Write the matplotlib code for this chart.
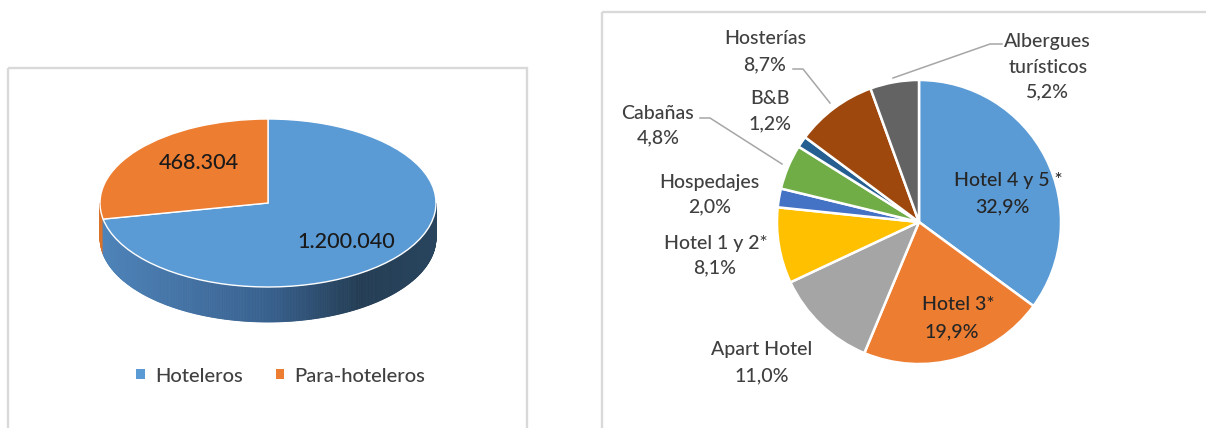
import matplotlib
matplotlib.use('Agg')
import matplotlib.pyplot as plt
from matplotlib.patches import Rectangle, Polygon, Patch
import numpy as np

plt.rcParams['font.family'] = ['Lato', 'DejaVu Sans']
plt.rcParams['font.weight'] = 'medium'

# ---------------- data ----------------
left_labels = ['Hoteleros', 'Para-hoteleros']
left_values = [1200040, 468304]
left_colors = ['#5B9BD5', '#ED7D31']

right_categories = ['Hotel 4 y 5 *', 'Hotel 3*', 'Apart Hotel', 'Hotel 1 y 2*', 'Hospedajes',
                    'Cabañas', 'B&B', 'Hosterías', 'Albergues\nturísticos']
right_shares = [32.9, 19.9, 11.0, 8.1, 2.0, 4.8, 1.2, 8.7, 5.2]
right_colors = ['#5B9BD5', '#ED7D31', '#A5A5A5', '#FFC000', '#4472C4',
                '#70AD47', '#255E91', '#9E480E', '#636363']


def fmt_thousands(v):
    return f"{v:,}".replace(',', '.')


def fmt_pct(v):
    return f"{v:.1f}".replace('.', ',') + '%'


W, H = 1206, 428
fig = plt.figure(figsize=(W / 100, H / 100), dpi=100)
fig.patch.set_facecolor('white')

# ---------------- panel borders ----------------
bg = fig.add_axes([0, 0, 1, 1])
bg.set_xlim(0, W)
bg.set_ylim(H, 0)
bg.axis('off')
for x0, y0, x1, y1 in [(8, 68, 527, 460), (602, 12, 1240, 460)]:
    bg.add_patch(Rectangle((x0, y0), x1 - x0, y1 - y0, fill=False,
                           ec='#d9d9d9', lw=1.7))

# ---------------- left: 3D-look pie ----------------
cx, cy, a, b, depth = 268, 203, 168, 84, 35
px0, px1, py0, py1 = 60, 480, 95, 345
axL = fig.add_axes([px0 / W, 1 - py1 / H, (px1 - px0) / W, (py1 - py0) / H])
wedgesL, _ = axL.pie(left_values, colors=left_colors, startangle=90,
                     counterclock=False,
                     wedgeprops=dict(edgecolor='white', linewidth=1.0))
axL.set_aspect('auto')
axL.set_xlim((px0 - cx) / a, (px1 - cx) / a)
axL.set_ylim((cy - py1) / b, (cy - py0) / b)
axL.axis('off')

d = depth / b
fr = np.array(left_values, dtype=float) / sum(left_values)
cum = np.concatenate([[0.0], np.cumsum(fr)])


def slice_at(theta_deg):
    p = ((90.0 - theta_deg) % 360.0) / 360.0
    return min(int(np.searchsorted(cum, p, side='right') - 1), len(fr) - 1)


blue_stops_x = [-1.0, 0.0, 0.55, 1.0]
blue_stops_c = [(0.31, 0.52, 0.73), (0.22, 0.38, 0.56), (0.14, 0.24, 0.33), (0.16, 0.27, 0.37)]
orange_side = (0.85, 0.45, 0.17)


def side_color(i, x):
    if i == 0:
        return tuple(np.interp(x, blue_stops_x, [c[k] for c in blue_stops_c]) for k in range(3))
    return orange_side


step = 0.5
for t in np.arange(-180.0, 0.0, step):
    a1, a2 = np.radians(t), np.radians(t + step)
    i = slice_at(t + step / 2)
    xm = np.cos(np.radians(t + step / 2))
    c = side_color(i, xm)
    poly = Polygon([(np.cos(a1), np.sin(a1)), (np.cos(a2), np.sin(a2)),
                    (np.cos(a2), np.sin(a2) - d), (np.cos(a1), np.sin(a1) - d)],
                   closed=True, fc=c, ec=c, lw=0.6, zorder=0.5)
    axL.add_patch(poly)

fig.legend([Patch(facecolor=c) for c in left_colors], left_labels,
           loc='center', bbox_to_anchor=(281 / W, 1 - 376 / H), ncol=2,
           frameon=False, fontsize=14.5, handlelength=0.4, handleheight=0.4,
           handletextpad=0.55, columnspacing=1.6, labelcolor='#404040')

# ---------------- right: pie ----------------
axR = fig.add_axes([0, 0, 1, 1])
rc_x, rc_y, rr = 919, 222, 142
axR.pie(right_shares, colors=right_colors, startangle=90, counterclock=False,
        center=(rc_x, -rc_y), radius=rr, explode=[0.022] * len(right_shares),
        wedgeprops=dict(edgecolor='white', linewidth=1.8))
axR.set_aspect('auto')
axR.set_xlim(0, W)
axR.set_ylim(-H, 0)
axR.axis('off')

# ---------------- overlay: texts & leader lines ----------------
ov = fig.add_axes([0, 0, 1, 1])
ov.set_xlim(0, W)
ov.set_ylim(H, 0)
ov.axis('off')

# left values
left_text_pos = [(346, 242), (199, 163)]
for v, (x, y) in zip(left_values, left_text_pos):
    ov.text(x, y, fmt_thousands(v), ha='center', va='center', fontsize=15.5, color='#1a1a1a')

# right labels: (name line positions..., pct position)
right_label_pos = [
    [(1008, 180), (1002, 207)],
    [(958, 305), (952, 332)],
    [(762, 350), (762, 376)],
    [(716, 243), (715, 268)],
    [(709, 182), (710, 207)],
    [(657, 113), (658, 138)],
    [(770, 98), (770, 124)],
    [(765, 38), (765, 65)],
    [(1047, 41), (1048, 67), (1047, 92)],
]
inside = {0, 1}
for k, (name, share, pos) in enumerate(zip(right_categories, right_shares, right_label_pos)):
    lines = name.split('\n') + [fmt_pct(share)]
    col = '#262626' if k in inside else '#404040'
    for line, (x, y) in zip(lines, pos):
        ov.text(x, y, line, ha='center', va='center', fontsize=14, color=col)

leaders = [
    [(893, 78), (990, 44), (1002, 44)],
    [(793, 69), (803, 69), (830, 103)],
    [(700, 118), (710, 118), (782, 164)],
]
for pts in leaders:
    xs, ys = zip(*pts)
    ov.plot(xs, ys, color='#a6a6a6', lw=1.1)

fig.savefig('out.png', dpi=100, facecolor='white')
